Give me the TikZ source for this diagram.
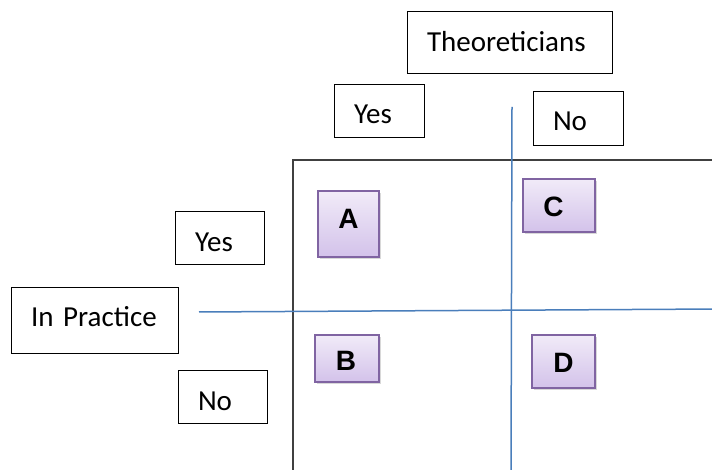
\documentclass[tikz,border=0pt]{standalone}
\usepackage{fontspec}
\setmainfont{Carlito}
\newfontfamily\arialfont{Liberation Sans}
\usetikzlibrary{shadows}
\definecolor{boxpurple}{HTML}{8064A2}
\definecolor{ptop}{HTML}{F1EBF8}
\definecolor{pbot}{HTML}{D3C2EA}
\definecolor{lineblue}{HTML}{4A7EBB}
\definecolor{framegray}{HTML}{404040}
\tikzset{
  lbl/.style={draw=black, line width=1pt, font=\fontsize{29}{30}\selectfont,
    inner xsep=20pt, inner ysep=0pt, align=left, text height=25pt, text depth=0pt},
  pbox/.style={draw=boxpurple, line width=1.5pt, top color=ptop, bottom color=pbot,
    drop shadow={shadow xshift=1.5pt, shadow yshift=-2.5pt, opacity=0.3, fill=gray}},
  ptext/.style={font=\arialfont\bfseries\fontsize{28}{28}\selectfont, inner sep=0pt},
  blueline/.style={draw=lineblue, line width=1.5pt},
  frame/.style={draw=framegray, line width=1.3pt}
}
\begin{document}
\begin{tikzpicture}[x=1pt,y=1pt]
\useasboundingbox (0,0) rectangle (712,470);
\fill[white] (0,0) rectangle (712,470);
% frame
\coordinate (fb) at (293,-5);
\coordinate (ft) at (293,310);
\coordinate (fr) at (720,310);
\draw[frame] (fb) -- (ft) -- (fr);
% blue lines
\coordinate (vt) at (512,363);
\coordinate (vb) at (511,-5);
\coordinate (hl) at (199,158);
\coordinate (hr) at (720,161);
\draw[blueline] (vt) -- (vb);
\draw[blueline] (hl) -- (hr);
% label boxes
\node[lbl, text width=165pt, minimum height=62pt, text height=17pt] (theo) at (509.5,427) {Theoreticians};
\node[lbl, text width=50pt, minimum height=53pt, text height=24pt] (tyes) at (379,358.5) {Yes};
\node[lbl, text width=50pt, minimum height=54pt, text height=24pt] (tno) at (578,351) {No};
\node[lbl, text width=49pt, minimum height=53pt, text height=26pt] (pyes) at (219.5,231.5) {Yes};
\node[lbl, text width=127pt, minimum height=66pt, text height=11pt] (prac) at (94.5,149) {In Practice};
\node[lbl, text width=49pt, minimum height=53pt, text height=26pt] (pno) at (222.5,72.5) {No};
% purple boxes
\node[pbox, minimum width=61pt, minimum height=66pt] (A) at (348.5,246) {};
\node[ptext] at ([yshift=5.5pt]A.center) {A};
\node[pbox, minimum width=72pt, minimum height=53pt] (C) at (559,264.5) {};
\node[ptext] at ([xshift=-5.5pt,yshift=-1pt]C.center) {C};
\node[pbox, minimum width=64pt, minimum height=47pt] (B) at (347,111.5) {};
\node[ptext] at ([xshift=-1pt,yshift=-2pt]B.center) {B};
\node[pbox, minimum width=63pt, minimum height=53pt] (D) at (563.5,108.5) {};
\node[ptext] at ([yshift=-1.5pt]D.center) {D};
\end{tikzpicture}
\end{document}
